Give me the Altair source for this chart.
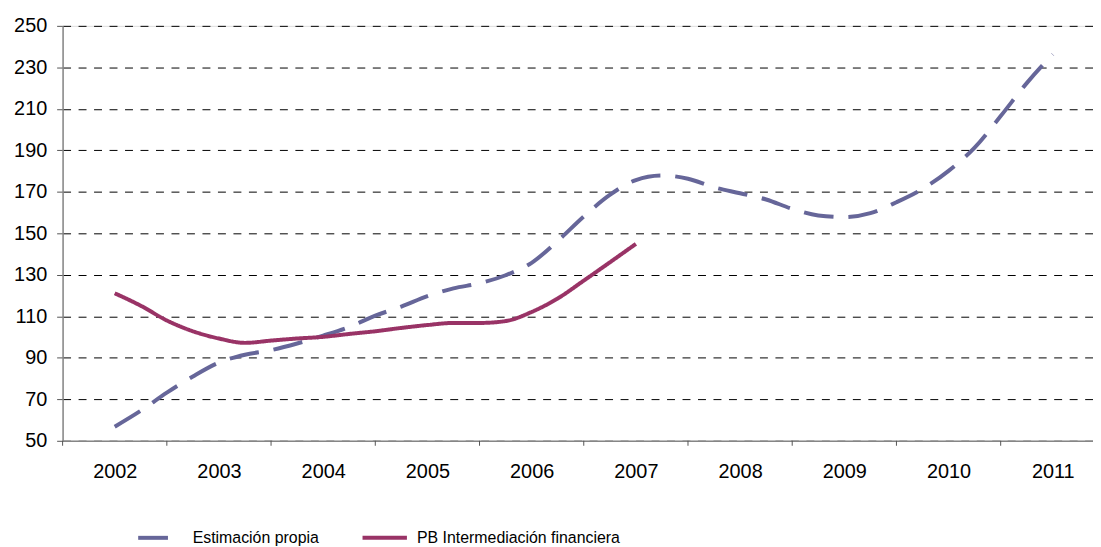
import altair as alt
import pandas as pd

# ---- data (quarterly, 2002 -> 2011) ----
years = [2002, 2003, 2004, 2005, 2006, 2007, 2008, 2009, 2010, 2011]
series_names = ["Estimación propia", "PB Intermediación financiera"]

estimacion = [56.8, 64.5, 73.2, 81.0, 87.7, 91.5, 93.7, 96.9, 100.7, 104.9,
              110.3, 114.7, 119.7, 123.5, 125.9, 129.8, 135.8, 146.3, 158.1, 168.5,
              175.7, 177.9, 176.3, 172.2, 169.3, 166.3, 161.8, 158.6, 157.8, 159.7,
              165.0, 171.4, 180.1, 191.3, 206.5, 222.4, 236.3]
pb_interm = [121.1, 115.1, 108.0, 102.8, 99.3, 97.2, 98.3, 99.3, 100.1, 101.5,
             102.8, 104.4, 105.8, 106.8, 106.8, 107.7, 112.1, 118.6, 127.2, 136.0,
             144.9]

y_ticks = [50, 70, 90, 110, 130, 150, 170, 190, 210, 230, 250]

# quarter positions: first point of each series sits on the 2002 label
def quarter_pos(n):
    return [years[0] + i / 4 for i in range(n)]

rows = []
for t, v in zip(quarter_pos(len(estimacion)), estimacion):
    rows.append({"t": t, "v": v, "serie": series_names[0]})
for t, v in zip(quarter_pos(len(pb_interm)), pb_interm):
    rows.append({"t": t, "v": v, "serie": series_names[1]})
df = pd.DataFrame(rows)

# category boundaries (tick marks between year labels)
bounds = pd.DataFrame({"b": [y - 0.5 for y in years]})

band = 105.0          # px per year
plot_w = 1038
plot_h = 418
x_min = years[0] - 0.5
x_max = x_min + plot_w / band

font = "Liberation Sans"
x_scale = alt.Scale(domain=[x_min, x_max], nice=False, zero=False)

legend_cfg = dict(title=None, orient="none", direction="horizontal",
                  legendX=74, legendY=491,
                  symbolType="stroke", symbolSize=2000,
                  symbolStrokeWidth=4, labelOffset=8, columnPadding=35,
                  labelFont=font, labelFontSize=16,
                  labelColor="#000000", labelLimit=400)

lines = alt.Chart(df).mark_line(strokeWidth=4, interpolate="monotone").encode(
    x=alt.X("t:Q", title=None, scale=x_scale,
            axis=alt.Axis(values=years, format="d", ticks=False, tickSize=0,
                          labelOverlap=False, labelFlush=False,
                          domainColor="#868686", domainWidth=1.5,
                          labelFont=font, labelFontSize=20, labelColor="#000000",
                          labelPadding=21, grid=False)),
    y=alt.Y("v:Q", title=None,
            scale=alt.Scale(domain=[50, 250], nice=False, zero=False),
            axis=alt.Axis(values=y_ticks, grid=True, gridDash=[8, 7.6], gridColor="#000000",
                          gridWidth=1, tickSize=6, tickColor="#555555", tickWidth=1,
                          domainColor="#868686", domainWidth=1.5,
                          labelFont=font, labelFontSize=20, labelColor="#000000",
                          labelPadding=10)),
    color=alt.Color("serie:N",
                    scale=alt.Scale(domain=series_names, range=["#666699", "#993366"]),
                    legend=alt.Legend(**legend_cfg)),
    strokeDash=alt.StrokeDash("serie:N",
                              scale=alt.Scale(domain=series_names, range=[[30, 15], [1, 0]]),
                              legend=alt.Legend(**legend_cfg)),
)

ticks = alt.Chart(bounds).mark_rule(color="#555555", strokeWidth=1).encode(
    x=alt.X("b:Q", scale=x_scale),
    y=alt.value(plot_h),
    y2=alt.value(plot_h + 5),
)

chart = alt.layer(lines, ticks).properties(
    width=plot_w, height=plot_h,
    autosize=alt.AutoSizeParams(type="none"),
    padding={"left": 55, "top": 16, "right": 0, "bottom": 105},
).configure_view(stroke=None).configure(background="#ffffff")

chart.save("out.html", embed_options={"renderer": "svg", "actions": False})
